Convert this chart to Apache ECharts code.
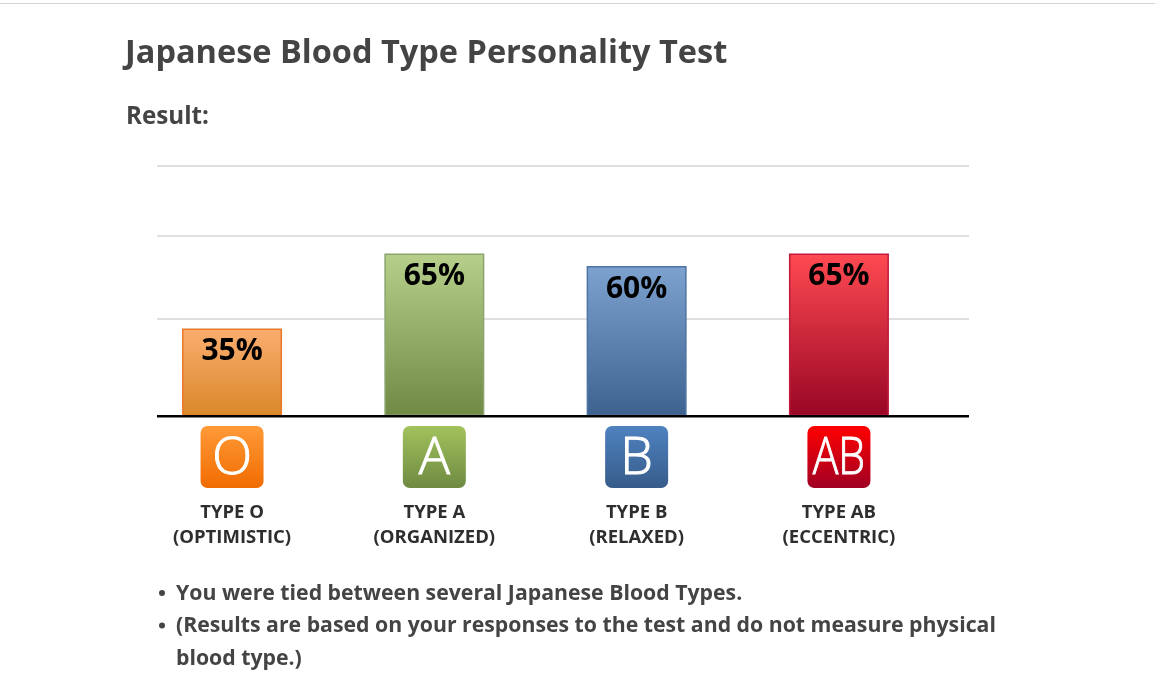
<!DOCTYPE html>
<html><head><meta charset="utf-8">
<script src="https://cdn.jsdelivr.net/npm/echarts@6/dist/echarts.min.js"></script>
<style>html,body{margin:0;padding:0;background:#fff}#c{width:1155px;height:688px}</style></head>
<body><div id="c"></div>
<script>
const typeLabels = ['TYPE O\n(OPTIMISTIC)','TYPE A\n(ORGANIZED)','TYPE B\n(RELAXED)','TYPE AB\n(ECCENTRIC)'];
const iconLetters = ['O','A','B','AB'];
const percents = [35,65,60,65];
const gridValues = [0,39,72,100];
const positions = [0,1,2,3];
const barTop = ['#fbad70','#b6d08c','#7da2d0','#ff4a52'];
const barBottom = ['#d98828','#708a46','#3e6290','#980624'];
const barBorder = ['#e8782a','#8aa46c','#4e74a4','#c21a3c'];
const iconTop = ['#ff9a38','#a2c25c','#4f82c0','#ff0000'];
const iconBottom = ['#f06c00','#6e8a42','#375c8a','#a00024'];
const titleText = 'Japanese Blood Type Personality Test';
const resultText = 'Result:';
const notes = ['You were tied between several Japanese Blood Types.','(Results are based on your responses to the test and do not measure physical','blood type.)'];
const ink = '#444444', font = '"Open Sans"';
const grad = (a,b)=>new echarts.graphic.LinearGradient(0,0,0,1,[{offset:0,color:a},{offset:1,color:b}]);
const chart = echarts.init(document.getElementById('c'));
const txt = (t,x,y,size)=>({type:'text',silent:true,style:{text:t,x:x,y:y,fill:ink,font:'bold '+size+'px '+font}});
chart.setOption({
  animation:false,
  backgroundColor:'#fff',
  grid:{left:157,right:186,top:166,bottom:272,containLabel:false},
  xAxis:{type:'value',min:-0.371,max:3.643,splitLine:{show:false},
    axisLine:{show:false},axisTick:{show:false},
    axisLabel:{show:true,customValues:positions,margin:84,showMinLabel:true,showMaxLabel:true,
      formatter:v=>typeLabels[v],fontFamily:font,fontWeight:'bold',fontSize:18.5,lineHeight:25,color:'#2e2e2e'}},
  yAxis:{type:'value',min:0,max:100,axisLabel:{show:false},axisLine:{show:false},
    axisTick:{show:false,customValues:gridValues},
    splitLine:{show:true,lineStyle:{color:'#d4d4d4',width:1.5}}},
  series:[{
    type:'bar',barWidth:100,z:3,
    data:positions.map((p,i)=>({value:[p,percents[i]],itemStyle:{color:grad(barTop[i],barBottom[i]),borderColor:barBorder[i],borderWidth:1.5},
      label:{formatter:percents[i]+'%'}})),
    label:{show:true,position:'insideTop',distance:8,fontFamily:font,fontWeight:'bold',fontSize:30,color:'#000'}
  },{
    type:'custom',z:4,clip:false,coordinateSystem:'cartesian2d',silent:true,
    data:positions.map(p=>[p,0]),
    renderItem:(params,api)=>{
      const i=params.dataIndex, c=api.coord([api.value(0),0]);
      const letter=iconLetters[i];
      return {type:'group',x:c[0],y:c[1],children:[
        {type:'rect',shape:{x:-31.5,y:10,width:63,height:62,r:7},style:{fill:grad(iconTop[i],iconBottom[i])}},
        {type:'text',x:0,y:43,scaleX:letter==='AB'?0.82:1,style:{text:letter,fill:'#fff',stroke:'#fff',lineWidth:1,font:'300 52px '+font,textAlign:'center',textVerticalAlign:'middle'}}
      ]};
    }
  }],
  graphic:[
    {type:'rect',shape:{x:0,y:3,width:1155,height:1},style:{fill:'#d4d4d8'},silent:true},
    {type:'rect',shape:{x:157,y:415,width:812,height:2.5},style:{fill:'#000'},silent:true,z:10},
    txt(titleText,125,37,32.5),
    txt(resultText,126,105,24.2),
    txt(notes[0],176,583,21.25),
    txt(notes[1],176,615,21.25),
    txt(notes[2],176,648,21.25),
    {type:'circle',shape:{cx:162,cy:593,r:3},style:{fill:ink},silent:true},
    {type:'circle',shape:{cx:162,cy:625.5,r:3},style:{fill:ink},silent:true}
  ]
});
</script></body></html>
